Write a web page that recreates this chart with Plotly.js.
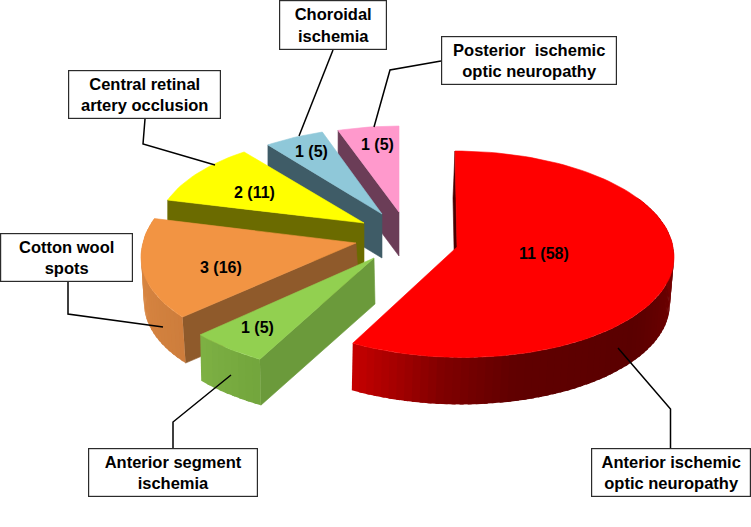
<!DOCTYPE html>
<html>
<head>
<meta charset="utf-8">
<script src="https://cdn.plot.ly/plotly-3.0.1.min.js"></script>
<style>html,body{margin:0;padding:0;background:#fff}#chart{width:751px;height:527px}</style>
</head>
<body>
<div id="chart"></div>
<script>
// ---- data (clockwise from 12 o'clock) ----
var categories = ['Anterior ischemic<br>optic neuropathy', 'Anterior segment<br>ischemia', 'Cotton wool<br>spots',
                  'Central retinal<br>artery occlusion', 'Choroidal<br>ischemia', 'Posterior  ischemic<br>optic neuropathy'];
var counts   = [11, 1, 3, 2, 1, 1];
var percents = [58, 5, 16, 11, 5, 5];

// ---- styles ----
var topColors  = ['#ff0000', '#92d050', '#f29443', '#ffff00', '#8fc8d9', '#ff99cc'];
var faceColors = ['#4a0000', '#6b9a3b', '#8f5a2b', '#6b6b00', '#3f5c67', '#6b3d57'];
var arcStops = [
  [[60,115,0,0],[95,115,0,0],[130,90,0,0],[167,96,0,0],[185,128,0,0],[195,160,0,0],[209,200,0,0]],
  [[208,114,165,60],[228,126,177,68]],
  [[227,205,125,60],[285,226,141,70]],
  null, null, null
];
// exploded position and perspective of every slice: centre, radii, perspective, depth
var geom = [
  {cx:457, cy:247, r:216, k:102.7, p:.07, d:47, s:-2, sn:-6, sb:.99, dx:-2},
  {cx:374, cy:258, r:225, k:108,   p:.07, d:46, s:0,  sn:0,  sb:1,   dx:1},
  {cx:356, cy:243, r:213, k:102,   p:.10, d:46, s:0,  sn:8,  sb:1,   dx:3},
  {cx:364, cy:223, r:206, k:95,    p:.07, d:44, s:0,  sn:0,  sb:1,   dx:0},
  {cx:382, cy:214, r:196, k:92.4,  p:.07, d:44, s:0,  sn:0,  sb:1,   dx:0},
  {cx:399, cy:212, r:200, k:92,    p:.07, d:44, s:0,  sn:0,  sb:1,   dx:0}
];
var valueLabelPos = [[544,253],[257,327],[221,267],[254,192],[311,151],[377,144]];
var boxes = [[591,448,751,497],[88,448,258,497],[0,233,133,282],[68,70,221,119],[279,0,387,50],[441,36,617,85]];
var leaders = [
  [[670.5,448],[670.5,409],[618,348]],
  [[173,448],[173,422],[231,375]],
  [[68,282],[68,314],[163,327]],
  [[145,119],[143,144],[215,165]],
  [[333,50],[299,136]],
  [[441,61],[390,70],[374,127]]
];

// ---- geometry derived from the values ----
var total = counts.reduce(function(a,b){return a+b;},0);
var starts = [], ends = [], run = 0;
counts.forEach(function(c){ starts.push(run/total*360); run += c; ends.push(run/total*360); });

function pt(g, deg, z){
  var t = deg*Math.PI/180, u = Math.sin(t), v = Math.cos(t), w = 1 + g.p*v;
  var sx = z ? g.sb : 1;
  return [g.cx + sx*g.r*u/w + (v > 0 ? g.s : g.sn)*v + (z ? g.dx : 0), g.cy - g.k*v/w + (z ? g.d : 0)];
}
function apex(g, z){ return [g.cx + (z ? g.dx : 0), g.cy + (z ? g.d : 0)]; }
function poly(points, color, noLine){
  var xs = points.map(function(q){return q[0];}), ys = points.map(function(q){return q[1];});
  xs.push(xs[0]); ys.push(ys[0]);
  return {type:'scatter', mode:noLine ? 'none' : 'lines', x:xs, y:ys, fill:'toself', fillcolor:color,
          line:{color:color, width:noLine ? 0 : 0.6}, hoverinfo:'skip', showlegend:false};
}
function stopColor(stops, deg){
  var i = 0;
  while(i < stops.length-2 && deg > stops[i+1][0]) i++;
  var a = stops[i], b = stops[i+1], f = Math.max(0, Math.min(1, (deg-a[0])/(b[0]-a[0])));
  return 'rgb(' + [1,2,3].map(function(j){return Math.round(a[j]+(b[j]-a[j])*f);}).join(',') + ')';
}

var traces = [];
[5,4,3,2,1,0].forEach(function(i){
  var g = geom[i], a = starts[i], b = ends[i];
  // the cut face that looks towards the viewer
  var cut = i === 0 ? 0 : a;
  traces.push(poly([pt(g,cut,0), apex(g,0), apex(g,1), pt(g,cut,1)], faceColors[i]));
  // outer rim, in overlapping narrow bands so that its shading can vary
  if(arcStops[i]){
    var from = i === 0 ? 60 : a, to = b, n = Math.max(8, Math.round((to-from)/2));
    for(var j=n-1;j>=0;j--){
      var t0 = from+(to-from)*j/n, t1 = from+(to-from)*(j+1)/n, t2 = Math.max(from, t0-1);
      traces.push(poly([pt(g,t2,0), pt(g,t1,0), pt(g,t1,1), pt(g,t2,1)], stopColor(arcStops[i], (t0+t1)/2), true));
    }
  }
  // top surface
  var top = [apex(g,0)], m = Math.max(12, Math.round((b-a)/2));
  for(var q=0;q<=m;q++) top.push(pt(g, a+(b-a)*q/m, 0));
  traces.push(poly(top, topColors[i]));
});

var annotations = [], shapes = [];
counts.forEach(function(c,i){
  annotations.push({xref:'x', yref:'y', x:valueLabelPos[i][0], y:valueLabelPos[i][1], showarrow:false,
    text:'<b>'+c+' ('+percents[i]+')</b>', font:{family:'Liberation Sans, Arial, sans-serif', size:16, color:'#000'}});
  var bx = boxes[i];
  annotations.push({xref:'x', yref:'y', x:(bx[0]+bx[2])/2, y:(bx[1]+bx[3])/2, showarrow:false,
    text:'<b>'+categories[i]+'</b>', align:'center', width:bx[2]-bx[0]-4, height:bx[3]-bx[1]-4,
    bgcolor:'#fff', bordercolor:'#2b2b2b', borderwidth:1.2, borderpad:1,
    font:{family:'Liberation Sans, Arial, sans-serif', size:16.5, color:'#000'}});
  var l = leaders[i];
  shapes.push({type:'path', xref:'x', yref:'y',
    path:'M'+l.map(function(q){return q[0]+','+q[1];}).join('L'),
    line:{color:'#000', width:1.5}});
});

var axis = {visible:false, fixedrange:true, showgrid:false, zeroline:false};
Plotly.newPlot('chart', traces, {
  width:751, height:527, margin:{l:0,r:0,t:0,b:0}, showlegend:false,
  paper_bgcolor:'#fff', plot_bgcolor:'#fff', hovermode:false,
  xaxis:Object.assign({range:[0,751]},axis),
  yaxis:Object.assign({range:[527,0]},axis),
  shapes:shapes, annotations:annotations
}, {displayModeBar:false, staticPlot:true});
</script>
</body>
</html>
